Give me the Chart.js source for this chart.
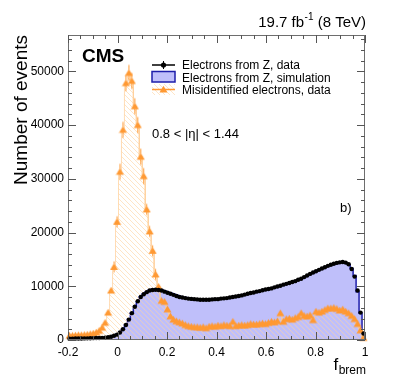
<!DOCTYPE html>
<html><head><meta charset="utf-8">
<script src="https://cdn.jsdelivr.net/npm/chart.js@4/dist/chart.umd.min.js"></script>
<style>html,body{margin:0;padding:0;background:#fff;}#wrap{width:407px;height:391px;}</style>
</head><body><div id="wrap"><canvas id="c" width="407" height="391"></canvas></div>
<script>
// ---- axis facts ----
const xMin = -0.2, xMax = 1.0, nBins = 100;
const yMax = 56750;
const xTickValues = [-0.2, 0, 0.2, 0.4, 0.6, 0.8, 1.0];
const xTickLabels = ['-0.2', '0', '0.2', '0.4', '0.6', '0.8', '1'];
const yTickValues = [0, 10000, 20000, 30000, 40000, 50000];
const yTickLabels = ['0', '10000', '20000', '30000', '40000', '50000'];
const legendLabels = ['Electrons from Z, data', 'Electrons from Z, simulation', 'Misidentified electrons, data'];

// ---- series (events per bin of f_brem, 100 bins from -0.2 to 1) ----
const dataZ = [
  250,260,270,280,290,300,310,320,340,360,
  380,400,450,500,600,800,1000,1400,2000,2800,
  3800,5000,6200,7200,8000,8500,8900,9200,9300,9350,
  9300,9200,9000,8800,8600,8400,8200,8000,7900,7800,
  7700,7650,7600,7550,7500,7500,7500,7500,7550,7600,
  7600,7700,7750,7800,7900,8000,8100,8200,8300,8450,
  8600,8750,8850,9000,9100,9250,9400,9500,9600,9800,
  9950,10100,10300,10450,10600,10800,10950,11200,11400,11700,
  12000,12300,12550,12800,13050,13300,13550,13800,14000,14200,
  14350,14450,14500,14400,14100,13200,11800,9200,5100,1200
];
const simZ = [
  240,250,260,270,280,290,300,310,330,350,
  370,390,440,500,620,820,1050,1450,2050,2850,
  3850,5050,6250,7250,8050,8600,9000,9300,9450,9500,
  9450,9350,9150,8950,8750,8550,8350,8150,8000,7900,
  7800,7700,7650,7600,7550,7550,7550,7550,7550,7600,
  7650,7700,7750,7850,7900,8000,8100,8200,8300,8450,
  8600,8700,8850,8950,9100,9250,9400,9500,9650,9800,
  9950,10100,10250,10450,10600,10800,10950,11150,11400,11650,
  11950,12250,12500,12800,13050,13300,13550,13800,14000,14200,
  14350,14450,14450,14350,14050,13300,12000,9000,5000,1300
];
const misId = [
  800,800,850,900,900,950,1000,1100,1200,1400,
  1700,2300,3200,5100,9200,13600,22000,31300,39100,47800,
  49700,48200,43500,40000,34100,30500,24300,20200,16600,12200,
  9900,7300,7100,5700,4400,3800,3500,3300,3100,2800,
  2600,2500,2400,2400,2300,2400,2200,2500,2600,2500,
  2700,2600,2800,2700,2600,3400,2600,2700,2800,2700,
  2800,3000,2900,2900,3000,3100,3000,3200,3400,3300,
  3500,5000,3400,3900,4000,3800,4100,4300,5000,4500,
  4400,4600,3700,5300,5100,5300,5600,5900,5900,6000,
  5800,5500,5700,5300,5000,4500,3900,3000,1800,400
];

// ---- tables built for the library ----
const binW = (xMax - xMin) / nBins;
const centers = dataZ.map((_, i) => xMin + (i + 0.5) * binW);
function steps(vals) {
  const pts = [];
  vals.forEach((v, i) => { pts.push({x: xMin + i * binW, y: v}); pts.push({x: xMin + (i + 1) * binW, y: v}); });
  return pts;
}
const ORANGE = 'rgb(255,153,51)';
const FONT = '"Liberation Sans", Arial, Helvetica, sans-serif';

function makeMarker(err) {
  const w = 9, half = Math.max(err, 4) + 1, h = 2 * half + 1;
  const c = document.createElement('canvas'); c.width = w; c.height = h;
  const g = c.getContext('2d');
  const cx = w / 2, cy = h / 2;
  g.fillStyle = ORANGE; g.strokeStyle = ORANGE; g.lineWidth = 1;
  if (err > 0) { g.beginPath(); g.moveTo(cx, cy - err); g.lineTo(cx, cy + err); g.stroke(); }
  g.beginPath(); g.moveTo(cx, cy - 3.7); g.lineTo(cx + 4, cy + 3); g.lineTo(cx - 4, cy + 3); g.closePath(); g.fill();
  return c;
}
const bigMarker = makeMarker(8), midMarker = makeMarker(5.5), smallMarker = makeMarker(0);

function makeHatch() {
  const s = 5;
  const c = document.createElement('canvas'); c.width = s; c.height = s;
  const g = c.getContext('2d');
  g.strokeStyle = 'rgb(255,212,160)'; g.lineWidth = 0.6;
  g.beginPath();
  g.moveTo(-1, -1); g.lineTo(s + 1, s + 1);
  g.moveTo(-1, s - 1); g.lineTo(1, s + 1);
  g.moveTo(s - 1, -1); g.lineTo(s + 1, 1);
  g.stroke();
  return g.createPattern(c, 'repeat');
}
const hatch = makeHatch();

const decor = {
  id: 'decor',
  afterDraw(chart) {
    const ctx = chart.ctx, a = chart.chartArea;
    const xs = chart.scales.x, ys = chart.scales.y;
    ctx.save();
    // frame
    ctx.strokeStyle = '#6e6e6e'; ctx.lineWidth = 1;
    ctx.strokeRect(a.left + 0.5, a.top + 0.5, a.right - a.left - 1, a.bottom - a.top - 1);
    // ticks
    ctx.strokeStyle = '#555';
    ctx.beginPath();
    for (let k = 0; k <= 24; k++) {
      const v = xMin + k * 0.05;
      const px = Math.round(xs.getPixelForValue(v)) + 0.5;
      const len = (k % 4 === 0) ? 8 : 4;
      ctx.moveTo(px, a.bottom); ctx.lineTo(px, a.bottom - len);
      ctx.moveTo(px, a.top); ctx.lineTo(px, a.top + len);
    }
    for (let v = 0; v <= yMax; v += 2000) {
      const py = Math.round(ys.getPixelForValue(v)) + 0.5;
      const len = (v % 10000 === 0) ? 8 : 4;
      ctx.moveTo(a.left, py); ctx.lineTo(a.left + len, py);
      ctx.moveTo(a.right, py); ctx.lineTo(a.right - len, py);
    }
    ctx.stroke();

    ctx.fillStyle = '#000';
    ctx.textBaseline = 'alphabetic';
    // CMS
    ctx.font = 'bold 19px ' + FONT; ctx.textAlign = 'left';
    ctx.fillText('CMS', 82, 61.5);
    // lumi text
    const p1 = '19.7 fb', p3 = ' (8 TeV)';
    ctx.font = '15px ' + FONT; const w1 = ctx.measureText(p1).width, w3 = ctx.measureText(p3).width;
    ctx.font = '10px ' + FONT; const w2 = ctx.measureText('-1').width;
    let x0 = 365.5 - (w1 + w2 + w3);
    ctx.font = '15px ' + FONT; ctx.fillText(p1, x0, 26.5);
    ctx.font = '10px ' + FONT; ctx.fillText('-1', x0 + w1 + 0.5, 20);
    ctx.font = '15px ' + FONT; ctx.fillText(p3, x0 + w1 + w2 + 0.5, 26.5);
    // eta label
    ctx.font = '13px ' + FONT;
    ctx.fillText('0.8 < |\u03b7| < 1.44', 152, 138);
    ctx.fillText('b)', 340, 212);
    // x title
    ctx.font = '12px ' + FONT; const wb = ctx.measureText('brem').width;
    const bx = 366 - wb;
    ctx.fillText('brem', bx, 373.5);
    ctx.font = '17px ' + FONT; const wf = ctx.measureText('f').width;
    ctx.fillText('f', bx - wf - 0.5, 370);
    // y title
    ctx.save();
    ctx.translate(27, 35); ctx.rotate(-Math.PI / 2);
    ctx.font = '19px ' + FONT; ctx.textAlign = 'right';
    ctx.fillText('Number of events', 0, 0);
    ctx.restore();

    // legend
    const lx0 = 152, lx1 = 175, lxm = (lx0 + lx1) / 2, tx = 182;
    ctx.strokeStyle = '#000'; ctx.lineWidth = 1.5;
    ctx.beginPath(); ctx.moveTo(lx0, 65); ctx.lineTo(lx1, 65); ctx.stroke();
    ctx.lineWidth = 1;
    ctx.beginPath(); ctx.moveTo(lxm, 61); ctx.lineTo(lxm, 69); ctx.stroke();
    ctx.beginPath(); ctx.arc(lxm, 65, 2.6, 0, Math.PI * 2); ctx.fillStyle = '#000'; ctx.fill();
    ctx.fillStyle = 'rgb(191,191,250)'; ctx.fillRect(lx0, 71.5, lx1 - lx0, 10.5);
    ctx.strokeStyle = 'rgb(30,30,170)'; ctx.lineWidth = 1.5; ctx.strokeRect(lx0, 71.5, lx1 - lx0, 10.5);
    ctx.fillStyle = hatch; ctx.fillRect(lx0, 84, lx1 - lx0, 11);
    ctx.strokeStyle = ORANGE; ctx.lineWidth = 1.5;
    ctx.beginPath(); ctx.moveTo(lx0, 89.5); ctx.lineTo(lx1, 89.5); ctx.stroke();
    ctx.drawImage(smallMarker, lxm - smallMarker.width / 2, 89.5 - smallMarker.height / 2);
    ctx.fillStyle = '#000'; ctx.font = '12px ' + FONT; ctx.textAlign = 'left';
    ctx.fillText(legendLabels[0], tx, 69);
    ctx.fillText(legendLabels[1], tx, 81.7);
    ctx.fillText(legendLabels[2], tx, 94.3);
    ctx.restore();
  }
};

function tickLabel(values, labels) {
  return (v) => { const k = values.findIndex(t => Math.abs(t - v) < 1e-9); return k >= 0 ? labels[k] : ''; };
}

new Chart(document.getElementById('c'), {
  type: 'line',
  data: {
    datasets: [
      { label: legendLabels[0], data: centers.map((x, i) => ({x, y: dataZ[i]})), showLine: false,
        pointRadius: 2.2, pointBackgroundColor: '#000', pointBorderColor: '#000', pointBorderWidth: 0, order: 0, clip: 4 },
      { label: legendLabels[2], data: centers.map((x, i) => ({x, y: misId[i]})), showLine: false, pointRadius: 3,
        pointStyle: (c) => { const v = c.raw ? c.raw.y : 0; return v > 25000 ? bigMarker : (v > 10000 ? midMarker : smallMarker); },
        order: 1, clip: 6 },
      { label: 'misid hist', data: steps(misId), borderColor: 'rgba(255,205,150,0.7)', borderWidth: 1, pointRadius: 0,
        fill: 'origin', backgroundColor: hatch, tension: 0, order: 2 },
      { label: legendLabels[1], data: steps(simZ), borderColor: 'rgb(30,30,170)', borderWidth: 1.5, pointRadius: 0,
        fill: 'origin', backgroundColor: 'rgb(191,191,250)', tension: 0, order: 3 }
    ]
  },
  options: {
    animation: false, responsive: false, devicePixelRatio: 1,
    layout: { padding: { left: 0, top: 35, right: 42, bottom: 0 } },
    plugins: { legend: { display: false }, tooltip: { enabled: false } },
    scales: {
      x: { type: 'linear', min: xMin, max: xMax,
        grid: { display: false, drawTicks: false }, border: { display: false },
        ticks: { autoSkip: false, maxRotation: 0, padding: 5, color: '#000', font: { family: FONT, size: 12 },
          callback: tickLabel(xTickValues, xTickLabels) },
        afterBuildTicks: (s) => { s.ticks = xTickValues.map(v => ({value: v})); },
        afterFit: (s) => { s.height = 51; } },
      y: { type: 'linear', min: 0, max: yMax,
        grid: { display: false, drawTicks: false }, border: { display: false },
        ticks: { autoSkip: false, padding: 4, color: '#000', font: { family: FONT, size: 12 },
          callback: tickLabel(yTickValues, yTickLabels) },
        afterBuildTicks: (s) => { s.ticks = yTickValues.map(v => ({value: v})); },
        afterFit: (s) => { s.width = 68; } }
    }
  },
  plugins: [decor]
});
</script>
</body></html>
